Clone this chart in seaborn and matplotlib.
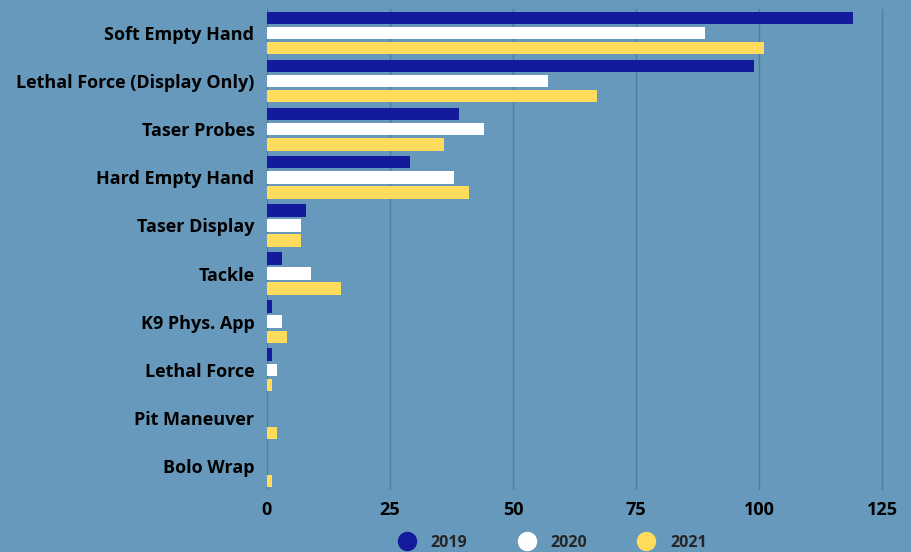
import pandas as pd
import matplotlib.pyplot as plt
import seaborn as sns
from matplotlib.lines import Line2D


categories = ['Soft Empty Hand', 'Lethal Force (Display Only)', 'Taser Probes',
              'Hard Empty Hand', 'Taser Display', 'Tackle', 'K9 Phys. App',
              'Lethal Force', 'Pit Maneuver', 'Bolo Wrap']
years = ['2019', '2020', '2021']
vals_2019 = [119, 99, 39, 29, 8, 3, 1, 1, 0, 0]
vals_2020 = [89, 57, 44, 38, 7, 9, 3, 2, 0, 0]
vals_2021 = [101, 67, 36, 41, 7, 15, 4, 1, 2, 1]
colors = ['#141a9c', '#ffffff', '#ffdc5c']

# long form table for seaborn
df = pd.DataFrame({
    'type': categories * 3,
    'year': [y for y in years for _ in categories],
    'count': vals_2019 + vals_2020 + vals_2021,
})

bg = '#6699bb'
sns.set_style('white')
plt.rcParams['font.family'] = ['Open Sans', 'DejaVu Sans']
plt.rcParams['font.weight'] = 'bold'

fig = plt.figure(figsize=(9.11, 5.52), dpi=100, facecolor=bg)
ax = fig.add_axes([267 / 911, 1 - 490 / 552, (892 - 267) / 911, (490 - 9) / 552])
ax.set_facecolor(bg)

sns.barplot(data=df, y='type', x='count', hue='year', order=categories,
            hue_order=years, palette=colors, width=0.94, gap=0.18,
            orient='h', ax=ax, legend=False, saturation=1, linewidth=0)

ax.set_xlim(0, 127)
ax.set_xticks([0, 25, 50, 75, 100, 125])
ax.xaxis.grid(True, color='#4c7d9c', linewidth=1)
ax.set_axisbelow(True)
for s in ax.spines.values():
    s.set_visible(False)
ax.tick_params(axis='both', length=0, labelsize=13, colors='#000000')
ax.tick_params(axis='x', pad=8)
ax.tick_params(axis='y', pad=9)
for lab in ax.get_xticklabels() + ax.get_yticklabels():
    lab.set_fontweight('bold')
ax.set_xlabel('')
ax.set_ylabel('')

handles = [Line2D([], [], marker='o', linestyle='', markersize=13,
                  markerfacecolor=c, markeredgecolor=c) for c in colors]
fig.legend(handles, years, loc='center', bbox_to_anchor=(549 / 911, 1 - 543 / 552),
           ncol=3, frameon=False, columnspacing=2.7, handletextpad=0.5,
           prop={'weight': 'bold', 'size': 11.5})

fig.savefig('out.png', dpi=100, facecolor=bg)
